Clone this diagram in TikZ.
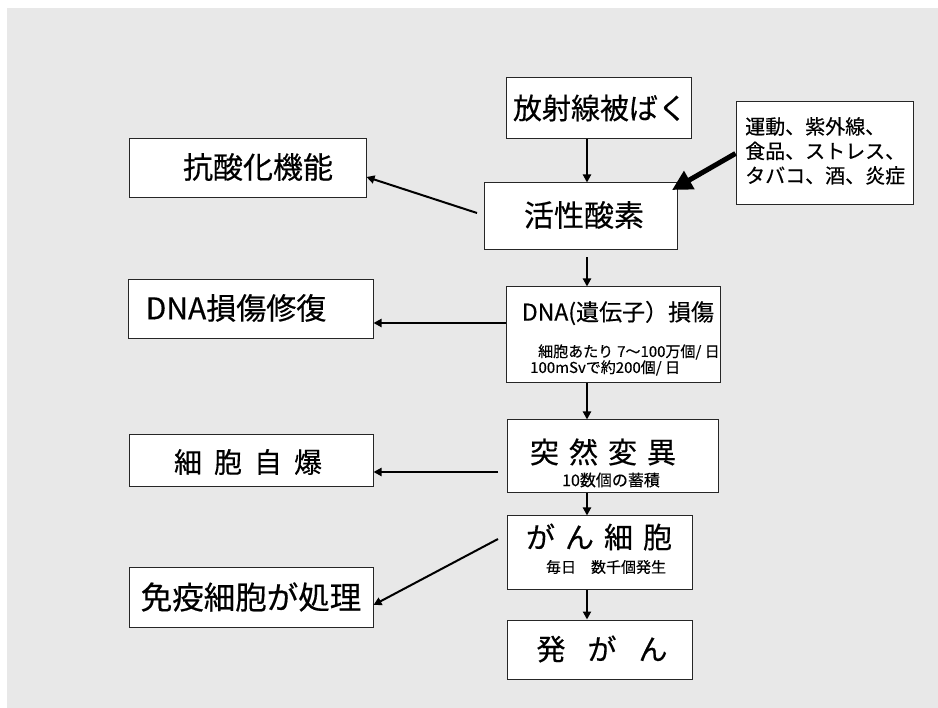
\documentclass[tikz,border=0pt]{standalone}
\usepackage{fontspec}
\setmainfont{Noto Sans CJK JP}[FakeBold=0.4]
\usetikzlibrary{arrows.meta}
\definecolor{bgc}{RGB}{232,232,232}
\newcommand{\fsz}[1]{\fontsize{#1}{#1}\selectfont}
\tikzset{
  box/.style={draw=black!85, line width=1pt, fill=white, inner sep=0pt},
  lbl/.style={inner sep=0pt, text=black},
  arr/.style={draw=black, line width=2pt, -{Triangle[length=8pt,width=8pt]}},
  thickarr/.style={draw=black, line width=5pt, -{Triangle[length=20pt,width=20pt]}}
}
\begin{document}
\begin{tikzpicture}[x=1pt,y=-1pt]
\useasboundingbox (0,0) rectangle (938,708);
\fill[bgc] (7,8) rectangle (938,708);

% boxes
\node[box, minimum width=185pt, minimum height=61pt] (hosha) at (598.5,108.5) {};
\node[box, minimum width=177pt, minimum height=103pt] (undo) at (824.5,153.5) {};
\node[box, minimum width=193pt, minimum height=67pt] (kassei) at (580.5,216.5) {};
\node[box, minimum width=237pt, minimum height=59pt] (kousanka) at (247.5,168.5) {};
\node[box, minimum width=245pt, minimum height=59pt] (dnafix) at (250.5,309.5) {};
\node[box, minimum width=214pt, minimum height=96pt] (dna) at (613,335) {};
\node[box, minimum width=211pt, minimum height=73pt] (totsu) at (612.5,456.5) {};
\node[box, minimum width=244pt, minimum height=52pt] (jibaku) at (251,461) {};
\node[box, minimum width=185pt, minimum height=74pt] (gan) at (599.5,553) {};
\node[box, minimum width=244pt, minimum height=59pt] (meneki) at (251,597.5) {};
\node[box, minimum width=185pt, minimum height=59pt] (hatsu) at (599.5,649.5) {};

% texts
\node[lbl] (thosha) at (600,108) {\fsz{29}放射線被ばく};
\node[lbl, anchor=north west, align=left, font=\fontsize{20}{24.5}\selectfont, text width=170pt] (tundo) at (745,117)
  {運動、紫外線、\\食品、ストレス、\\タバコ、酒、炎症};
\node[lbl] (tkassei) at (584,215) {\fsz{30}活性酸素};
\node[lbl] (tkousanka) at (258,167) {\fsz{30}抗酸化機能};
\node[lbl] (tdnafix) at (236,308) {\fsz{30}DNA損傷修復};
\node[lbl] (tdna) at (618,313) {\fsz{23}DNA(遺伝子）損傷};
\node[lbl, anchor=west] (tdna2) at (538,352) {\fsz{15}細胞あたり\hspace{4pt}7～100万個/ 日};
\node[lbl, anchor=west] (tdna3) at (530,368) {\fsz{15}100mSvで約200個/ 日};
\node[lbl] (ttotsu) at (603,452) {\fsz{29}突\hspace{10pt}然\hspace{10pt}変\hspace{10pt}異};
\node[lbl] (ttotsu2) at (611,480) {\fsz{16}10数個の蓄積};
\node[lbl] (tjibaku) at (248,462) {\fsz{28}細\hspace{12pt}胞\hspace{12pt}自\hspace{12pt}爆};
\node[lbl] (tgan) at (599,537) {\fsz{29}が\hspace{10pt}ん\hspace{10pt}細\hspace{10pt}胞};
\node[lbl] (tgan2) at (606,567) {\fsz{15}毎日　数千個発生};
\node[lbl] (tmeneki) at (251,597) {\fsz{31.5}免疫細胞が処理};
\node[lbl] (thatsu) at (602,649) {\fsz{29}発\hspace{22pt}が\hspace{22pt}ん};

% connectors
\coordinate (spine) at (587,0);
\draw[arr] (spine |- hosha.south) -- (spine |- kassei.north);
\draw[arr] ([yshift=-7pt]spine |- kassei.south) -- (spine |- dna.north);
\draw[arr] (spine |- dna.south) -- (spine |- totsu.north);
\draw[arr] (spine |- totsu.south) -- (spine |- gan.north);
\draw[arr] (spine |- gan.south) -- (spine |- hatsu.north);

\coordinate (kstart) at (477,213);
\draw[arr] (kstart) -- ([yshift=-8.5pt]kousanka.east);
\draw[arr] ([yshift=12pt]dna.west) -- ([yshift=12pt]dna.west -| dnafix.east);
\coordinate (tstart) at (498,472);
\draw[arr] (tstart) -- (tstart -| jibaku.east);
\coordinate (gstart) at (498,539);
\draw[arr] (gstart) -- ([yshift=-7.5pt]meneki.east);
\coordinate (ktip) at (672,190);
\draw[thickarr] (undo.west) -- (ktip);
\end{tikzpicture}
\end{document}
